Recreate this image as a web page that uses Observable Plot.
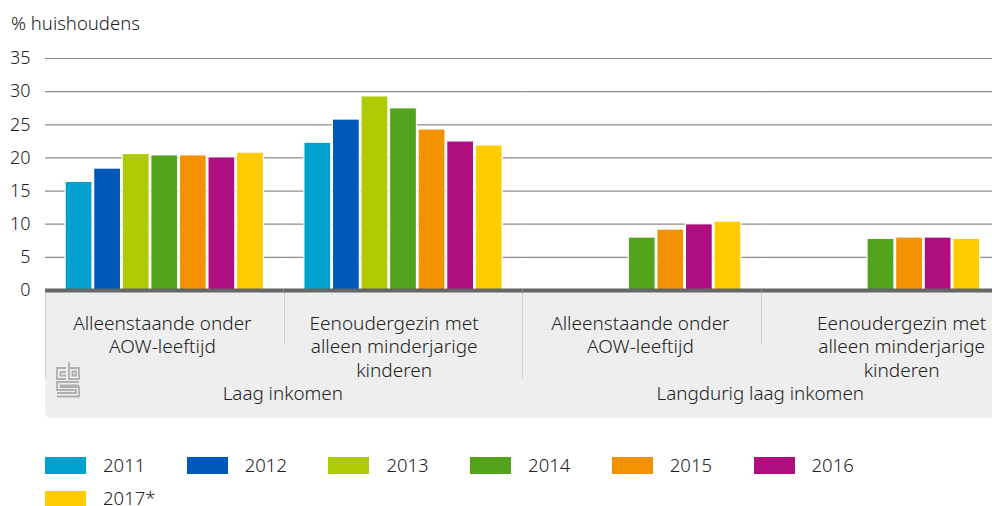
<!DOCTYPE html>
<html><head><meta charset="utf-8">
<script src="https://cdn.jsdelivr.net/npm/d3@7"></script>
<script src="https://cdn.jsdelivr.net/npm/@observablehq/plot@0.6"></script>
<style>
html,body{margin:0;padding:0;background:#fff;width:992px;height:506px;overflow:hidden;font-family:"Noto Sans",sans-serif;font-weight:300;color:#222;}
#wrap{position:relative;width:992px;height:506px;overflow:hidden;}
#unit{position:absolute;left:11px;top:11px;font-size:18.5px;line-height:24px;}
#panel{position:absolute;left:45px;top:292px;width:947px;height:126px;background:#eeeeee;border-bottom-left-radius:6px;}
.sep{position:absolute;top:0;width:1px;background:#d2d2d2;}
#chart{position:absolute;left:0;top:0;}
#chart svg{background:transparent;display:block;}
.sw{position:absolute;width:41px;height:17px;}
.lb{position:absolute;font-size:18.5px;line-height:16px;}
#logo{position:absolute;left:56px;top:361px;}
</style></head><body><div id="wrap">
<div id="panel">
<div class="sep" style="left:0;height:86px"></div>
<div class="sep" style="left:239px;height:53px"></div>
<div class="sep" style="left:477px;height:86px"></div>
<div class="sep" style="left:716px;height:53px"></div>
</div>
<div id="chart"></div>
<svg id="logo" width="24" height="37" viewBox="0 0 24 37" fill="none" stroke="#b0b0b0" stroke-width="1.8">
<path d="M10 7H1V18H10M10 11H4.5V14.5H10"/><path d="M13 1V18H23V7H13M16.5 10.5H20V14.5H16.5Z"/>
<path d="M23 21H1V29H20V32H1M1 35.5H23V26H4.5V24.5H23"/>
</svg>
<div id="unit">% huishoudens</div>
</div>
<script>
const years = ["2011","2012","2013","2014","2015","2016","2017*"];
const colors = ["#00a1cd","#0058b8","#afcb05","#53a31d","#f39200","#af0e80","#ffcc00"];
const groupKeys = ["A","B","C","D"];
const groupLabels = ["Alleenstaande onder\nAOW-leeftijd","Eenoudergezin met\nalleen minderjarige\nkinderen","Alleenstaande onder\nAOW-leeftijd","Eenoudergezin met\nalleen minderjarige\nkinderen"];
const labelShift = [-2.5,-9.5,-2,20.5];
const superLabels = ["Laag inkomen","Langdurig laag inkomen"];
const superAnchor = ["A","C"];
const superShift = [-1.5,-1.5];
const valuesA = [16.3,18.3,20.5,20.3,20.3,20.0,20.7];
const valuesB = [22.2,25.7,29.2,27.4,24.2,22.4,21.8];
const valuesC = [null,null,null,7.9,9.1,9.9,10.3];
const valuesD = [null,null,null,7.7,7.9,7.9,7.7];
const yTicks = [0,5,10,15,20,25,30,35];

const rows = [];
[valuesA,valuesB,valuesC,valuesD].forEach((vals,g)=>vals.forEach((v,i)=>{ if(v!=null) rows.push({group:groupKeys[g],year:years[i],value:v}); }));

const textBase = {fontSize:19, fill:"#222", fontWeight:300};
const plot = Plot.plot({
  width:992, height:430, marginLeft:45, marginRight:0, marginTop:58, marginBottom:140,
  style:{background:"transparent", fontFamily:'"Noto Sans",sans-serif', overflow:"hidden"},
  fx:{domain:groupKeys, range:[45,1000], padding:0, round:false, axis:null},
  x:{domain:years, range:[62.84,265.66], padding:0.1, round:false, axis:null},
  y:{domain:[0,35], range:[290,58], axis:null},
  color:{domain:years, range:colors},
  marks:[
    Plot.ruleY(yTicks.filter(d=>d>0),{stroke:"#8c8c8c", strokeWidth:1.2}),
    Plot.barY(rows,{fx:"group", x:"year", y:"value", fill:"year", stroke:"#fff", strokeWidth:2.4, paintOrder:"stroke"}),
    Plot.ruleY([0],{stroke:"#666", strokeWidth:4}),
    Plot.axisY({ticks:yTicks, tickSize:0, tickPadding:15, label:null, fontSize:18, fontWeight:300, fill:"#222", tickFormat:d=>String(d)}),
    ...groupKeys.map((k,i)=>Plot.text([k],{fx:d=>d, y:()=>0, text:()=>groupLabels[i], lineAnchor:"top", lineHeight:1.26, dy:22, dx:labelShift[i], ...textBase})),
    ...superLabels.map((s,i)=>Plot.text([s],{fx:()=>superAnchor[i], y:()=>0, text:d=>d, frameAnchor:"right", textAnchor:"middle", dy:103, dx:superShift[i], ...textBase, fontSize:18.8}))
  ]
});
document.getElementById("chart").appendChild(plot);

const wrap = document.getElementById("wrap");
const pitch = 141.7;
years.forEach((y,i)=>{
  const r = i<6?0:1, c = i<6?i:0;
  const s = document.createElement("div"); s.className="sw";
  s.style.left=(45+c*pitch)+"px"; s.style.top=(457+r*34)+"px"; s.style.background=colors[i];
  wrap.appendChild(s);
  const t = document.createElement("div"); t.className="lb"; t.textContent=y;
  t.style.left=(103+c*pitch)+"px"; t.style.top=(457+r*33)+"px";
  wrap.appendChild(t);
});
</script></body></html>
